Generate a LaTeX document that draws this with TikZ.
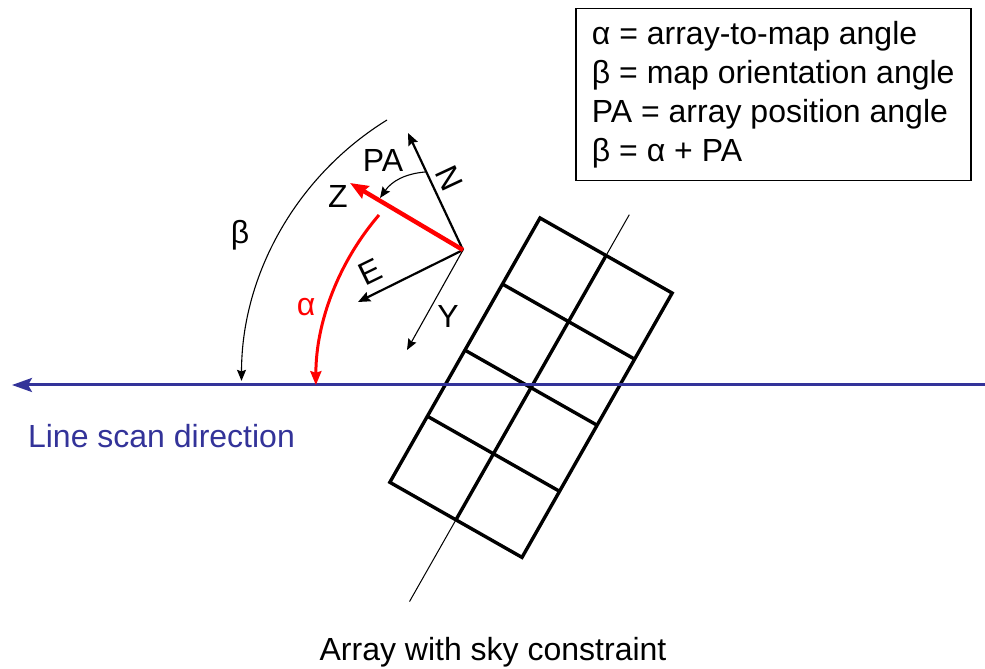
\documentclass[tikz,border=0pt]{standalone}
\usepackage{fontspec}
\setmainfont{Liberation Sans}
\usepackage{xcolor}
\usetikzlibrary{arrows.meta}
\definecolor{scanblue}{RGB}{51,51,153}

\begin{document}
\begin{tikzpicture}[x=0.5pt,y=0.5pt,
  font=\fontsize{16}{19.5}\selectfont,
  thinarrow/.style={line width=0.55pt,-{Stealth[length=5.5pt,width=4.5pt,inset=0.8pt]}},
  vecarrow/.style={line width=1.1pt,-{Stealth[length=6pt,width=5pt,inset=0.8pt]}},
  redarrow/.style={red,-{Stealth[length=7pt,width=5.5pt,inset=0.8pt]}},
  cellline/.style={line width=1.7pt,line join=miter}]

  \useasboundingbox (0,0) rectangle (985,669);

  % the array, turned to its position angle
  \begin{scope}[shift={(540,451)},rotate=-29.6]
    \draw[line width=0.5pt] (76,47) -- (76,-398);
    \draw[cellline] (0,0) rectangle (152,-304);
    \draw[cellline] (76,0) -- (76,-304);
    \foreach \k in {1,2,3}
      \draw[cellline] (0,-76*\k) -- (152,-76*\k);
  \end{scope}

  % scan line
  \coordinate (scanstart) at (985,284);
  \coordinate (scanend) at (12,284);
  \draw[scanblue,line width=1.5pt,-{Stealth[length=10pt,width=7pt,inset=2pt]}] (scanstart) -- (scanend);
  \node[scanblue,anchor=west] (scanlabel) at (21,233) {Line scan direction};

  % sky and array vectors
  \coordinate (orig) at (463,419);
  \coordinate (ntip) at (408,536);
  \coordinate (etip) at (358,367);
  \coordinate (ytip) at (407,319);
  \coordinate (ztip) at (350,486);
  \draw[vecarrow] (orig) -- (ntip);
  \draw[vecarrow] (orig) -- (etip);
  \draw[thinarrow] (orig) -- (ytip);
  \draw[red,line width=2.2pt,-{Stealth[length=9pt,width=7pt,inset=1pt]}] (orig) -- (ztip);

  \node[rotate=-65] (labN) at (449,491) {N};
  \node[rotate=26] (labE) at (370,397) {E};
  \node (labY) at (448,353) {Y};
  \node (labZ) at (338,473) {Z};

  % angles
  \coordinate (pastart) at (425,497);
  \coordinate (paend) at (380,471);
  \draw[thinarrow] (pastart) to[bend right=25] (paend);
  \node (labPA) at (383,509) {PA};

  \coordinate (alphastart) at (379,454);
  \draw[redarrow,line width=1.5pt] (alphastart) arc[start angle=139.3,end angle=180,radius=261];
  \node[red] (labalpha) at (306,362) {α};

  \coordinate (betastart) at (387,549);
  \draw[thinarrow] (betastart) arc[start angle=121.7,end angle=180,radius=306.6];
  \node (labbeta) at (240,434) {β};

  % legend
  \node[draw,line width=0.75pt,anchor=north west,minimum width=395*0.5pt,minimum height=172*0.5pt,
    align=left] (legend) at (575,661)
    {α = array-to-map angle\\β = map orientation angle\\PA = array position angle\\β = α + PA};

  \node (caption) at (493,17) {Array with sky constraint};

\end{tikzpicture}
\end{document}
